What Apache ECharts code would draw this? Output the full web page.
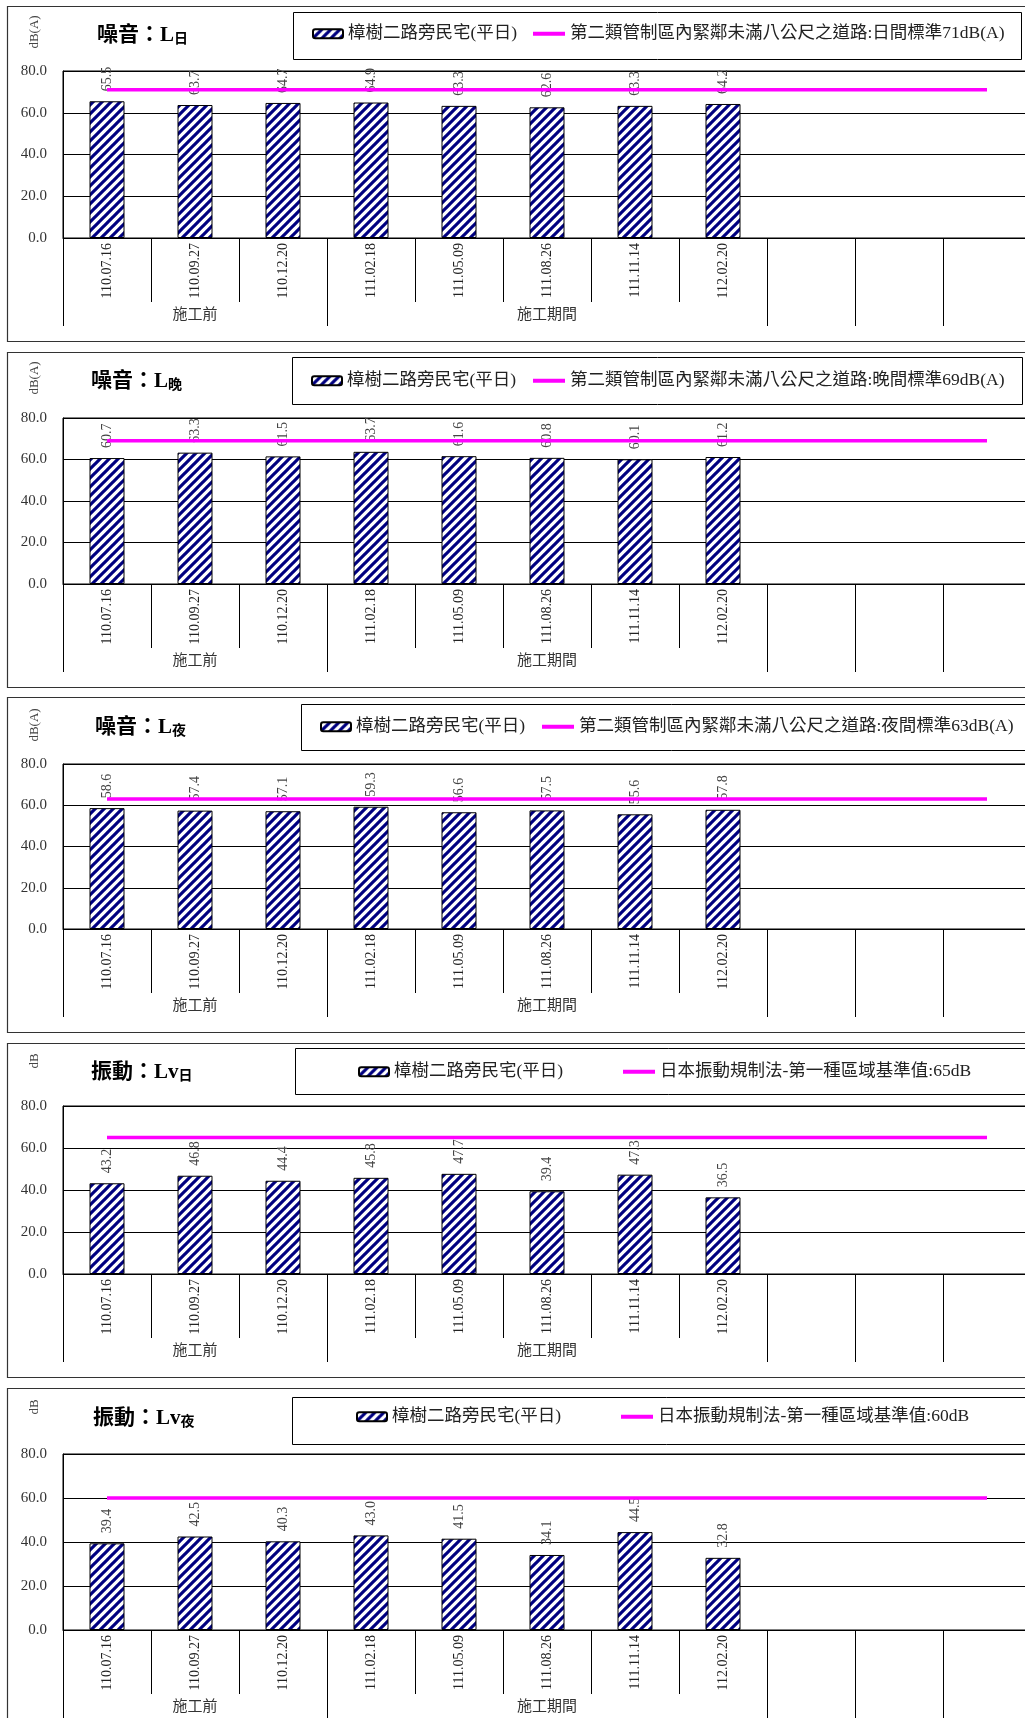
<!DOCTYPE html>
<html>
<head>
<meta charset="utf-8">
<script src="https://cdn.jsdelivr.net/npm/echarts@6/dist/echarts.min.js"></script>
<style>
html,body{margin:0;padding:0;background:#fff;overflow:hidden;width:1025px;height:1718px;position:relative;}
.panel{position:absolute;left:0;width:1040px;height:345px;}
</style>
</head>
<body>
<div id="p0" class="panel"></div>
<div id="p1" class="panel"></div>
<div id="p2" class="panel"></div>
<div id="p3" class="panel"></div>
<div id="p4" class="panel"></div>
<script>
// ---------- data ----------
const categories = ['110.07.16','110.09.27','110.12.20','111.02.18','111.05.09','111.08.26','111.11.14','112.02.20','','',''];
const groupNames = ['施工前','施工期間','','',''];
const groupSpans = [3,5,1,1,1];
const yTicks = [0,20,40,60,80];
const barName = '樟樹二路旁民宅(平日)';

const noiseDay      = [65.5,63.7,64.7,64.9,63.3,62.6,63.3,64.2];
const noiseDayStd   = [71,71,71,71,71,71,71,71,71,71,71];
const noiseEve      = [60.7,63.3,61.5,63.7,61.6,60.8,60.1,61.2];
const noiseEveStd   = [69,69,69,69,69,69,69,69,69,69,69];
const noiseNight    = [58.6,57.4,57.1,59.3,56.6,57.5,55.6,57.8];
const noiseNightStd = [63,63,63,63,63,63,63,63,63,63,63];
const vibDay        = [43.2,46.8,44.4,45.8,47.7,39.4,47.3,36.5];
const vibDayStd     = [65,65,65,65,65,65,65,65,65,65,65];
const vibNight      = [39.4,42.5,40.3,43.0,41.5,34.1,44.5,32.8];
const vibNightStd   = [60,60,60,60,60,60,60,60,60,60,60];

const panels = [
  {title:'噪音：L', sub:'日', unit:'dB(A)', bars:noiseDay,   std:noiseDayStd,   stdName:'第二類管制區內緊鄰未滿八公尺之道路:日間標準71dB(A)'},
  {title:'噪音：L', sub:'晚', unit:'dB(A)', bars:noiseEve,   std:noiseEveStd,   stdName:'第二類管制區內緊鄰未滿八公尺之道路:晚間標準69dB(A)'},
  {title:'噪音：L', sub:'夜', unit:'dB(A)', bars:noiseNight, std:noiseNightStd, stdName:'第二類管制區內緊鄰未滿八公尺之道路:夜間標準63dB(A)'},
  {title:'振動：Lv', sub:'日', unit:'dB',  bars:vibDay,     std:vibDayStd,     stdName:'日本振動規制法-第一種區域基準值:65dB'},
  {title:'振動：Lv', sub:'夜', unit:'dB',  bars:vibNight,   std:vibNightStd,   stdName:'日本振動規制法-第一種區域基準值:60dB'}
];

// ---------- layout (positions / sizes) ----------
const layouts = [
  {top:6,    plotTop:65, plotH:167, titleX:92, titleY:22, unitY:26, boxX:293, boxY:6, boxW:728, boxH:47, leg1X:312, leg2X:533, legY:29, panelH:335},
  {top:351.5,plotTop:66, plotH:166, titleX:86, titleY:22, unitY:26, boxX:292, boxY:5, boxW:730, boxH:47, leg1X:311, leg2X:533, legY:30, panelH:335},
  {top:697,  plotTop:67, plotH:165, titleX:90, titleY:23, unitY:28, boxX:301, boxY:7, boxW:800, boxH:46, leg1X:320, leg2X:542, legY:31, panelH:335},
  {top:1043, plotTop:63, plotH:168, titleX:86, titleY:22, unitY:18, boxX:295, boxY:5, boxW:800, boxH:46, leg1X:358, leg2X:623, legY:30, panelH:334},
  {top:1388, plotTop:66, plotH:176, titleX:88, titleY:23, unitY:19, boxX:292, boxY:9, boxW:800, boxH:47, leg1X:356, leg2X:621, legY:30, panelH:400}
];

const FONT = "'Liberation Serif','Times New Roman','Noto Sans CJK TC',serif";

// striped pattern
function makePattern(){
  const s = 9;
  const c = document.createElement('canvas');
  c.width = s; c.height = s;
  const ctx = c.getContext('2d');
  ctx.fillStyle = '#ffffff';
  ctx.fillRect(0,0,s,s);
  ctx.strokeStyle = '#000080';
  ctx.lineWidth = 3.1;
  [0, s, 2*s].forEach(k => {
    ctx.beginPath();
    ctx.moveTo(k + 4, -4);
    ctx.lineTo(-4, k + 4);
    ctx.stroke();
  });
  return c;
}
const pattern = makePattern();

function buildOption(p, L){
  const bounds = [0];
  groupSpans.forEach(n => bounds.push(bounds[bounds.length-1] + n));
  const centers = groupSpans.map((n,i) => (bounds[i] + bounds[i+1]) / 2);
  const catW = 88;
  const legendCommon = {
    orient:'horizontal', padding:0, itemGap:0, selectedMode:false, top:L.legY - 10,
    textStyle:{fontSize:17.5, color:'#222', fontFamily:FONT}
  };
  return {
    animation:false,
    textStyle:{fontFamily:FONT},
    title:{
      text:'{a|' + p.title + '}{b|' + p.sub + '}',
      left:L.titleX, top:L.titleY - 13,
      textStyle:{
        rich:{
          a:{fontSize:21, fontWeight:'bold', color:'#000', fontFamily:FONT, verticalAlign:'bottom', lineHeight:26},
          b:{fontSize:14, fontWeight:'bold', color:'#000', fontFamily:FONT, verticalAlign:'bottom', lineHeight:26, padding:[8,0,0,0]}
        }
      }
    },
    legend:[
      Object.assign({}, legendCommon, {left:L.leg1X, data:[barName], itemWidth:30, itemHeight:9}),
      Object.assign({}, legendCommon, {left:L.leg2X, top:L.legY - 10, data:[{name:p.stdName, icon:'rect'}], itemWidth:32, itemHeight:4})
    ],
    grid:{left:63, top:L.plotTop, width:catW * categories.length, height:L.plotH, show:true, borderColor:'#000', borderWidth:1, containLabel:false},
    xAxis:[
      {
        type:'category', data:categories, position:'bottom',
        axisLine:{show:true, lineStyle:{color:'#000', width:1}},
        axisTick:{show:true, interval:0, alignWithLabel:false, length:64, lineStyle:{color:'#000'}},
        axisLabel:{interval:0, rotate:90, margin:5, fontSize:14, color:'#222', fontFamily:FONT},
        splitLine:{show:false}
      },
      {
        type:'value', min:0, max:categories.length, position:'bottom',
        axisLine:{show:false}, splitLine:{show:false},
        axisTick:{show:true, customValues:bounds, length:88, lineStyle:{color:'#000'}},
        axisLabel:{customValues:centers, margin:70, fontSize:15, color:'#333', fontFamily:FONT,
          formatter:function(v){ const i = centers.indexOf(v); return i >= 0 ? groupNames[i] : ''; }}
      }
    ],
    yAxis:{
      type:'value', min:yTicks[0], max:yTicks[yTicks.length-1], interval:yTicks[1]-yTicks[0],
      axisLine:{show:true, lineStyle:{color:'#000'}},
      axisTick:{show:false},
      splitLine:{show:true, lineStyle:{color:'#000', width:1}},
      axisLabel:{formatter:function(v){return v.toFixed(1);}, margin:16, fontSize:15, color:'#333', fontFamily:FONT}
    },
    series:[
      {
        type:'bar', name:barName, data:p.bars, xAxisIndex:0, barWidth:35,
        itemStyle:{color:{image:pattern, repeat:'repeat'}, borderColor:'#000', borderWidth:1},
        label:{show:true, position:'top', rotate:90, align:'left', verticalAlign:'middle', distance:10,
          fontSize:14, color:'#444', fontFamily:FONT,
          formatter:function(d){return Number(d.value).toFixed(1);}}
      },
      {
        type:'line', name:p.stdName, data:p.std, xAxisIndex:0, symbol:'none', z:3,
        lineStyle:{color:'#ff00ff', width:3.5}, itemStyle:{color:'#ff00ff'}
      }
    ],
    graphic:[
      {type:'rect', silent:true, z:-1, shape:{x:7.5, y:0.5, width:1200, height:L.panelH}, style:{fill:'none', stroke:'#333', lineWidth:1.2}},
      {type:'rect', silent:true, z:-1, shape:{x:L.boxX + 0.5, y:L.boxY + 0.5, width:L.boxW, height:L.boxH}, style:{fill:'none', stroke:'#000', lineWidth:1}},
      {type:'text', silent:true, x:35, y:L.unitY, rotation:Math.PI/2,
        style:{text:p.unit, fontSize:13, fill:'#444', fontFamily:FONT, align:'center', verticalAlign:'middle', textAlign:'center', textVerticalAlign:'middle'}}
    ]
  };
}

panels.forEach(function(p, i){
  const L = layouts[i];
  const el = document.getElementById('p' + i);
  el.style.top = L.top + 'px';
  const chart = echarts.init(el, null, {renderer:'canvas'});
  chart.setOption(buildOption(p, L));
});
</script>
</body>
</html>
